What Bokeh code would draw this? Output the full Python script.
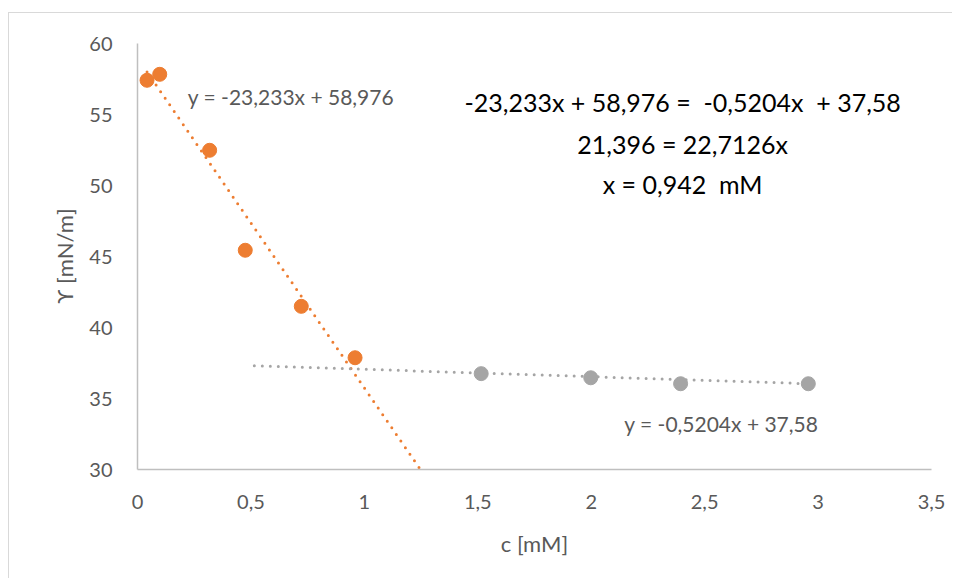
from bokeh.plotting import figure
from bokeh.models import FixedTicker, Label, Range1d
from bokeh.embed import file_html
from bokeh.resources import INLINE

# ---- data ----
orange_x = [0.042, 0.098, 0.318, 0.475, 0.722, 0.959]
orange_y = [57.41, 57.83, 52.48, 45.44, 41.49, 37.87]
grey_x = [1.515, 1.998, 2.394, 2.957]
grey_y = [36.75, 36.46, 36.04, 36.04]

orange_slope, orange_intercept = -23.233, 58.976
grey_slope, grey_intercept = -0.5204, 37.58
grey_backward = 1.0

x_ticks = [0, 0.5, 1, 1.5, 2, 2.5, 3, 3.5]
x_tick_labels = ["0", "0,5", "1", "1,5", "2", "2,5", "3", "3,5"]
y_ticks = [30, 35, 40, 45, 50, 55, 60]
y_tick_labels = ["30", "35", "40", "45", "50", "55", "60"]

NB = "\u00a0"
eq_orange = "y = -23,233x + 58,976"
eq_grey = "y = -0,5204x + 37,58"
calc_lines = ["-23,233x + 58,976 =" + NB + " -0,5204x" + NB + " + 37,58",
              "21,396 = 22,7126x",
              "x = 0,942" + NB + " mM"]

ORANGE = "#ED7D31"
GREY = "#A5A5A5"
TXT = "#595959"
FONT = "Lato"

p = figure(width=944, height=566, output_backend="svg", toolbar_location=None,
           x_range=Range1d(0, 3.5), y_range=Range1d(30, 60),
           min_border_left=128, min_border_right=22, min_border_top=30, min_border_bottom=110,
           styles={"margin-top": "12px", "margin-left": "8px",
                   "border-top": "1px solid #D9D9D9",
                   "border-left": "1px solid #D9D9D9"})
p.outline_line_color = None
p.xgrid.visible = False
p.ygrid.visible = False
p.background_fill_color = "white"
p.border_fill_color = "white"

for ax in (p.xaxis[0], p.yaxis[0]):
    ax.axis_line_color = "#BFBFBF"
    ax.axis_line_width = 1.5
    ax.major_tick_line_color = None
    ax.minor_tick_line_color = None
    ax.major_label_text_font = FONT
    ax.major_label_text_font_size = "20px"
    ax.major_label_text_color = TXT
    ax.axis_label_text_font = FONT
    ax.axis_label_text_font_size = "22px"
    ax.axis_label_text_font_style = "normal"
    ax.axis_label_text_color = TXT

p.xaxis.ticker = FixedTicker(ticks=x_ticks)
p.xaxis.major_label_overrides = {float(t): l for t, l in zip(x_ticks, x_tick_labels)}
p.yaxis.ticker = FixedTicker(ticks=y_ticks)
p.yaxis.major_label_overrides = {float(t): l for t, l in zip(y_ticks, y_tick_labels)}
p.xaxis.axis_label = "c [mM]"
p.yaxis.axis_label = "ϒ [mN/m]"
p.xaxis.major_label_standoff = 19
p.yaxis.major_label_standoff = 19
p.xaxis.axis_label_standoff = 18
p.yaxis.axis_label_standoff = 8

# trendlines
ox0 = min(orange_x)
ox1 = (30 - orange_intercept) / orange_slope
p.line([ox0, ox1], [orange_slope * ox0 + orange_intercept, orange_slope * ox1 + orange_intercept],
       line_color=ORANGE, line_width=3, line_dash="0 8", line_cap="round")
gx0 = min(grey_x) - grey_backward
gx1 = max(grey_x)
p.line([gx0, gx1], [grey_slope * gx0 + grey_intercept, grey_slope * gx1 + grey_intercept],
       line_color=GREY, line_width=3, line_dash="0 8", line_cap="round")

p.scatter(orange_x, orange_y, size=14, fill_color=ORANGE, line_color=ORANGE)
p.scatter(grey_x, grey_y, size=14, fill_color=GREY, line_color=GREY)

p.add_layout(Label(x=0.222, y=56.3, text=eq_orange, text_font=FONT, text_font_size="21px",
                   text_color=TXT, text_align="left", text_baseline="middle"))
p.add_layout(Label(x=2.146, y=33.23, text=eq_grey, text_font=FONT, text_font_size="21px",
                   text_color=TXT, text_align="left", text_baseline="middle"))
for txt, yy in zip(calc_lines, [55.88, 52.92, 50.1]):
    p.add_layout(Label(x=2.403, y=yy, text=txt, text_font=FONT, text_font_size="25px",
                       text_color="black", text_align="center", text_baseline="middle"))

open("out.html", "w").write(file_html(p, INLINE))
